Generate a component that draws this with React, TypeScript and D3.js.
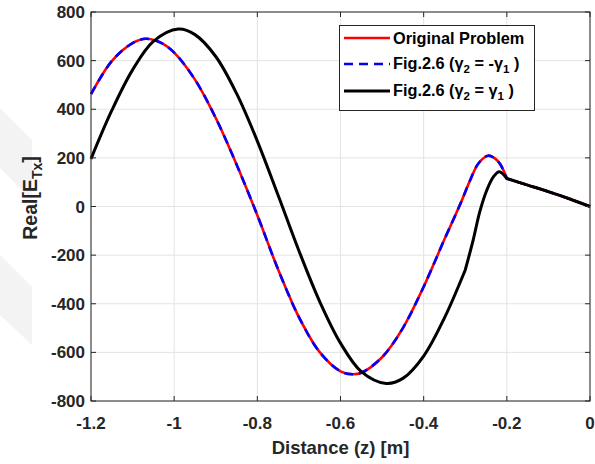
import React from 'react';
import * as d3 from 'd3';

const xTicks = [-1.2, -1, -0.8, -0.6, -0.4, -0.2, 0];
const yTicks = [-800, -600, -400, -200, 0, 200, 400, 600, 800];

// Original Problem (red) and Fig.2.6 (gamma2 = -gamma1) (blue dashed) coincide
const originalZ = [-1.2, -1.15, -1.1, -1.068, -1.03, -1.0, -0.95, -0.9, -0.85, -0.8, -0.75, -0.7, -0.65, -0.6, -0.572, -0.55, -0.5, -0.45, -0.4, -0.35, -0.313, -0.288, -0.268, -0.245, -0.22, -0.2, -0.15, -0.1, -0.05, 0];
const originalVal = [462, 598, 672, 690, 672, 633, 522, 364, 173, -36, -259, -455, -599, -678, -690, -684, -620, -500, -330, -135, 6, 109, 178, 209, 184, 115, 88, 61, 32, 0];
const mirrorVal = originalVal;

// Fig.2.6 (gamma2 = gamma1)
const sameZ = [-1.2, -1.15, -1.1, -1.05, -0.99, -0.95, -0.9, -0.85, -0.8, -0.75, -0.7, -0.65, -0.6, -0.55, -0.49, -0.45, -0.4, -0.35, -0.3, -0.281, -0.265, -0.248, -0.232, -0.218, -0.2, -0.15, -0.1, -0.05, 0];
const sameVal = [196, 395, 562, 679, 730, 707, 617, 465, 269, 46, -182, -391, -562, -679, -728, -707, -615, -458, -261, -138, -21, 68, 123, 143, 115, 88, 61, 32, 0];

// points where the curves have a corner
const originalBreaks = [-0.2];
const sameBreaks = [-0.3, -0.2];

const W = 595;
const H = 464;
const left = 91, right = 590, top = 12, bottom = 401;
const axisColor = '#262626';
const font = '"Liberation Sans", Arial, Helvetica, sans-serif';

const x = d3.scaleLinear().domain([-1.2, 0]).range([left, right]);
const y = d3.scaleLinear().domain([-800, 800]).range([bottom, top]);

const line = d3.line<[number, number]>()
  .x(d => x(d[0]))
  .y(d => y(d[1]))
  .curve(d3.curveCatmullRom.alpha(0.5));

// smooth pieces joined at the corner points, all in one path
function path(zs: number[], vs: number[], breaks: number[]) {
  const pts: [number, number][] = zs.map((z, i) => [z, vs[i]]);
  const cuts = breaks.map(b => zs.indexOf(b));
  let start = 0;
  let d = '';
  [...cuts, pts.length - 1].forEach(end => {
    const seg = line(pts.slice(start, end + 1)) || '';
    d += start === 0 ? seg : 'L' + seg.slice(1);
    start = end;
  });
  return d;
}

export default function App() {
  const fmt = (v: number) => String(+v.toFixed(1));
  const legendFs = 16.3;
  return (
    <svg width={W} height={H} style={{ position: 'absolute', left: 0, top: 0, background: '#fff' }} fontFamily={font}>
      <rect x={0} y={0} width={W} height={H} fill="#fff" />
      {/* faint watermark at the left edge */}
      <path d="M0,108 L32,140 L32,200 L0,168 Z" fill="#f3f3f3" />
      <path d="M0,255 L32,287 L32,345 L0,315 Z" fill="#f3f3f3" />

      {/* grid */}
      {xTicks.map(t => (
        <line key={'gx' + t} x1={x(t)} x2={x(t)} y1={top} y2={bottom} stroke="#e3e3e3" strokeWidth={1} />
      ))}
      {yTicks.map(t => (
        <line key={'gy' + t} x1={left} x2={right} y1={y(t)} y2={y(t)} stroke="#e3e3e3" strokeWidth={1} />
      ))}

      {/* curves */}
      <path d={path(originalZ, originalVal, originalBreaks)} fill="none" stroke="#ff0000" strokeWidth={2.6} strokeLinejoin="round" />
      <path d={path(originalZ, mirrorVal, originalBreaks)} fill="none" stroke="#0000ff" strokeWidth={2.6} strokeDasharray="9,6" />
      <path d={path(sameZ, sameVal, sameBreaks)} fill="none" stroke="#000" strokeWidth={3} strokeLinejoin="round" />

      {/* box */}
      <rect x={left} y={top} width={right - left} height={bottom - top} fill="none" stroke={axisColor} strokeWidth={1} />
      {xTicks.map(t => (
        <g key={'tx' + t}>
          <line x1={x(t)} x2={x(t)} y1={bottom} y2={bottom - 5} stroke={axisColor} />
          <line x1={x(t)} x2={x(t)} y1={top} y2={top + 5} stroke={axisColor} />
          <text x={x(t)} y={429} textAnchor="middle" fontSize={17} fontWeight="bold" fill={axisColor}>{fmt(t)}</text>
        </g>
      ))}
      {yTicks.map(t => (
        <g key={'ty' + t}>
          <line x1={left} x2={left + 5} y1={y(t)} y2={y(t)} stroke={axisColor} />
          <line x1={right} x2={right - 5} y1={y(t)} y2={y(t)} stroke={axisColor} />
          <text x={85} y={y(t)} dy="0.36em" textAnchor="end" fontSize={17} fontWeight="bold" fill={axisColor}>{t}</text>
        </g>
      ))}

      {/* axis labels */}
      <text x={(left + right) / 2} y={454} textAnchor="middle" fontSize={18.5} fontWeight="bold" fill={axisColor}>Distance (z) [m]</text>
      <text transform={`translate(37, 198) rotate(-90)`} textAnchor="middle" fontSize={19.5} fontWeight="bold" fill={axisColor}>
        Real[E<tspan dy={5} fontSize={14}>Tx</tspan><tspan dy={-5}>]</tspan>
      </text>

      {/* legend */}
      <g>
        <rect x={339.5} y={25.5} width={195} height={85} fill="#fff" stroke={axisColor} strokeWidth={1} />
        <line x1={344} x2={390} y1={38} y2={38} stroke="#ff0000" strokeWidth={2.6} />
        <text x={393} y={38} dy="0.36em" fontSize={legendFs} fontWeight="bold" fill="#000">Original Problem</text>
        <line x1={344} x2={390} y1={64} y2={64} stroke="#0000ff" strokeWidth={2.6} strokeDasharray="9,6" />
        <text x={393} y={63} dy="0.36em" fontSize={legendFs} fontWeight="bold" fill="#000">
          Fig.2.6 (γ<tspan dy={4} fontSize={11.5}>2</tspan><tspan dy={-4}> = -γ</tspan><tspan dy={4} fontSize={11.5}>1</tspan><tspan dy={-4}> )</tspan>
        </text>
        <line x1={344} x2={390} y1={91} y2={91} stroke="#000" strokeWidth={3} />
        <text x={393} y={90} dy="0.36em" fontSize={legendFs} fontWeight="bold" fill="#000">
          Fig.2.6 (γ<tspan dy={4} fontSize={11.5}>2</tspan><tspan dy={-4}> = γ</tspan><tspan dy={4} fontSize={11.5}>1</tspan><tspan dy={-4}> )</tspan>
        </text>
      </g>
    </svg>
  );
}
